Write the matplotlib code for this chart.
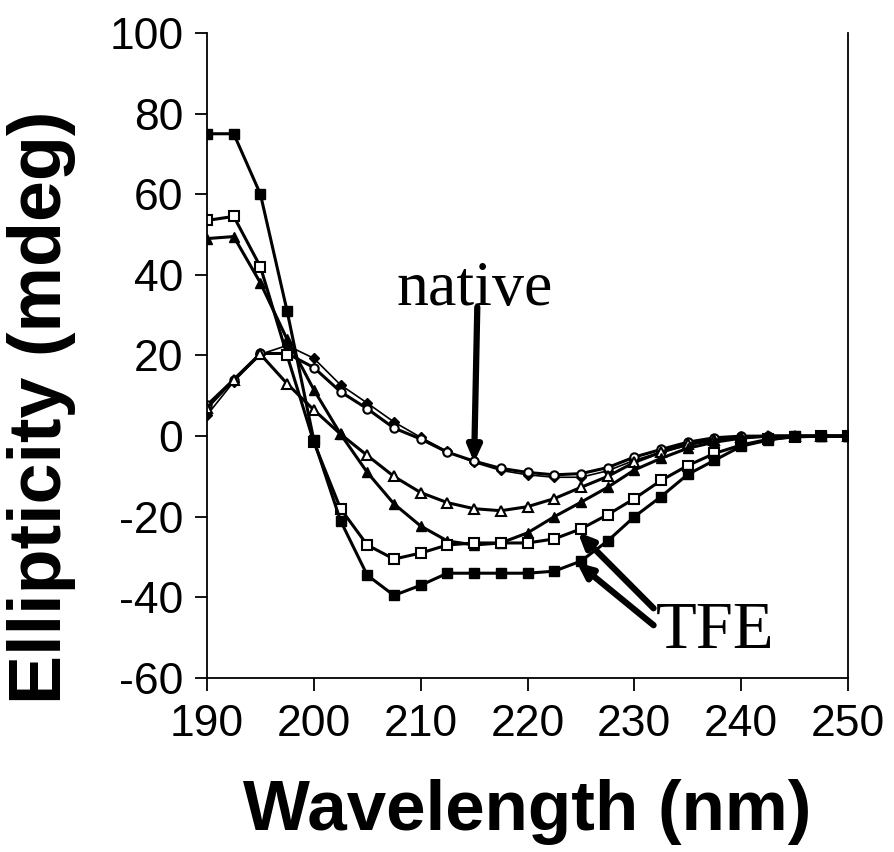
import matplotlib.pyplot as plt
import numpy as np

plt.rcParams['axes.unicode_minus'] = False

# wavelength grid (nm), one reading every 2.5 nm
wl = np.arange(190, 250.1, 2.5)

# CD spectra (mdeg)
tfe_hi = [75, 75, 60, 31, -1, -21, -34.5, -39.5, -37, -34, -34, -34, -34, -33.5,
          -31, -26, -20, -15, -9.5, -6, -2.5, -1, 0, 0, 0]
tfe_mid = [53.5, 54.5, 42, 20, -1.5, -18, -27, -30.5, -29, -27, -26.5, -26.5, -26.5, -25.5,
           -23, -19.5, -15.5, -11, -7.3, -4.3, -2.2, -0.8, -0.2, 0, 0]
tfe_lo = [49, 49.5, 38, 24, 11.5, 0.5, -9, -16.8, -22.3, -26, -27, -26.5, -24, -20,
          -16.4, -12.7, -8.4, -5.5, -3, -1.5, -0.5, 0, 0, 0, 0]
tfe_low2 = [7, 14, 20.3, 13, 6.5, 0.5, -4.8, -10, -14, -16.5, -18, -18.5, -17.5, -15.5,
            -12.7, -10, -6.5, -4, -2, -1, -0.3, 0, 0, 0, 0]
native = [7.7, 14, 20.5, 20.5, 17, 11, 6.8, 2, -0.7, -4, -6.2, -8, -9, -9.6,
          -9.3, -7.8, -5.2, -3.3, -1.5, -0.4, 0, 0, 0, 0, 0]
native2 = [5.2, 13.5, 20.3, 22.5, 19.3, 12.7, 8.2, 3.5, -0.3, -3.8, -6.5, -8.5, -9.6, -10.2,
           -10.2, -8.6, -6, -4, -2.3, -1, -0.3, 0, 0, 0, 0]

fig = plt.figure(figsize=(8.95, 8.52), dpi=100)
ax = fig.add_axes([0.2313, 0.2042, 0.7162, 0.7571])

ax.plot(wl, native2, color='black', lw=1.2, marker='D', ms=5, mfc='black', mec='black')
ax.plot(wl, native, color='black', lw=2.2, marker='o', ms=6, mfc='white', mec='black', mew=1.5)
ax.plot(wl, tfe_low2, color='black', lw=2.2, marker='^', ms=7, mfc='white', mec='black', mew=1.5)
ax.plot(wl, tfe_lo, color='black', lw=2.2, marker='^', ms=7, mfc='black', mec='black')
ax.plot(wl, tfe_mid, color='black', lw=2.2, marker='s', ms=7, mfc='white', mec='black', mew=1.5)
ax.plot(wl, tfe_hi, color='black', lw=2.2, marker='s', ms=7, mfc='black', mec='black')

ax.set_xlim(190, 250)
ax.set_ylim(-60, 100)
ax.set_xticks(np.arange(190, 251, 10))
ax.set_yticks(np.arange(-60, 101, 20))
ax.tick_params(axis='both', direction='out', length=9, width=1.3, labelsize=32, color='black')
ax.tick_params(axis='x', pad=10)
ax.tick_params(axis='y', pad=8)
for lab in ax.get_xticklabels() + ax.get_yticklabels():
    lab.set_family('Liberation Sans')
ax.spines['top'].set_visible(False)
for s in ['left', 'bottom', 'right']:
    ax.spines[s].set_linewidth(1.3)

ax.set_xlabel('Wavelength (nm)', fontsize=51, fontweight='bold', family='Liberation Sans', labelpad=24)
ax.set_ylabel('Ellipticity (mdeg)', fontsize=53, fontweight='bold', family='Liberation Sans')
ax.yaxis.set_label_coords(-0.205, 0.42)

arrow = dict(arrowstyle='-|>,head_length=0.9,head_width=0.4', color='black', lw=4.5, shrinkA=0, shrinkB=0)
ax.annotate('', xy=(215, -6.5), xytext=(215.3, 32), arrowprops=arrow)
ax.text(215.1, 32.5, 'native', fontsize=46, family='Liberation Serif', ha='center', va='baseline')

ax.annotate('', xy=(224.7, -23.8), xytext=(231.8, -42.7), arrowprops=arrow)
ax.annotate('', xy=(224.6, -31.3), xytext=(231.8, -46.9), arrowprops=arrow)
ax.text(232.0, -52.6, 'TFE', fontsize=48, family='Liberation Serif', ha='left', va='baseline')

fig.savefig('out.png', dpi=100)
